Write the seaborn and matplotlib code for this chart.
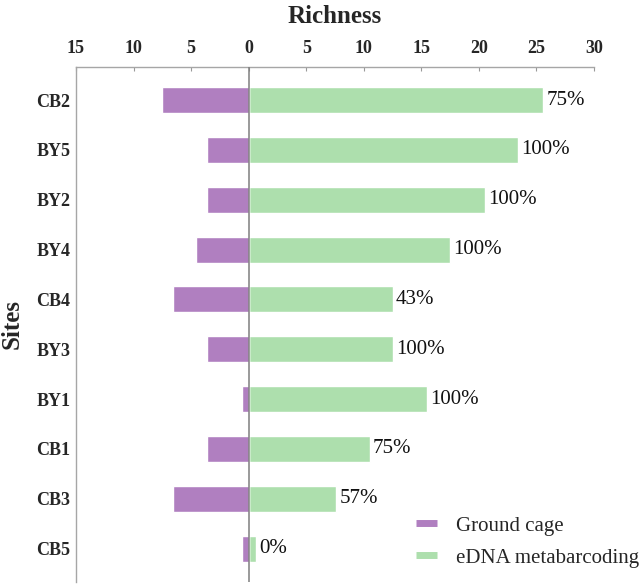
import numpy as np
import pandas as pd
import matplotlib
matplotlib.use("Agg")
import matplotlib.pyplot as plt
import seaborn as sns
from matplotlib.lines import Line2D

# =========================
# DATA
# =========================

sites = ["CB2", "BY5", "BY2", "BY4", "CB4", "BY3", "BY1", "CB1", "CB3", "CB5"]

edna = [25.6, 23.4, 20.5, 17.5, 12.5, 12.5, 15.5, 10.5, 7.6, 0.6]

cage = [7.5, 3.6, 3.6, 4.6, 6.6, 3.6, 0.6, 3.6, 6.6, 0.6]

pct_labels = ["75%", "100%", "100%", "100%", "43%", "100%", "100%", "75%", "57%", "0%"]

xticks = [-15, -10, -5, 0, 5, 10, 15, 20, 25, 30]

purple = "#B07FC0"
green = "#ADDFAD"

df = pd.DataFrame({"site": sites, "edna": edna, "cage": [-v for v in cage]})

# =========================
# PLOT
# =========================

sns.set_style("white")
plt.rcParams["font.family"] = ["Liberation Serif", "DejaVu Serif"]

fig = plt.figure(figsize=(6.44, 5.85), dpi=100)
ax = fig.add_axes([76 / 644, 3 / 585, (594 - 76) / 644, (582 - 66.7) / 585])

sns.barplot(data=df, x="edna", y="site", orient="h", color=green,
            width=0.52, saturation=1, ax=ax)
sns.barplot(data=df, x="cage", y="site", orient="h", color=purple,
            width=0.52, saturation=1, ax=ax)

ax.set_xlim(-15, 30)
ax.set_ylim(9.67, -0.67)

# zero line
ax.axvline(0, color="#7f7f7f", lw=1.1, zorder=3)

# percent labels
for i, (v, lab) in enumerate(zip(edna, pct_labels)):
    ax.text(v + 0.3, i, lab, va="center", ha="left", fontsize=15, color="#111111")

# axes styling
ax.xaxis.tick_top()
ax.xaxis.set_label_position("top")
ax.set_xticks(xticks)
ax.set_xticklabels([str(abs(t)) for t in xticks], fontsize=13, fontweight="bold")
ax.tick_params(axis="x", direction="in", length=3, width=0.8, color="#999999", pad=7)
ax.tick_params(axis="y", length=0, pad=4)
for lab in ax.get_yticklabels():
    lab.set_fontsize(13)
    lab.set_fontweight("bold")

ax.set_xlabel("Richness", fontsize=18, fontweight="bold", labelpad=12)
ax.set_ylabel("Sites", fontsize=18, fontweight="bold", labelpad=9)

for side in ["right", "bottom"]:
    ax.spines[side].set_visible(False)
for side in ["top", "left"]:
    ax.spines[side].set_color("#a6a6a6")
    ax.spines[side].set_linewidth(1)

# legend
handles = [Line2D([0], [0], color=purple, lw=5, solid_capstyle="butt"),
           Line2D([0], [0], color=green, lw=5, solid_capstyle="butt")]
ax.legend(handles, ["Ground cage", "eDNA metabarcoding"], loc="upper left",
          bbox_to_anchor=(416 / 644, 1 - 516 / 585), bbox_transform=fig.transFigure,
          frameon=False, fontsize=15, handlelength=1.0, handletextpad=0.9,
          labelspacing=0.6, borderpad=0, borderaxespad=0)

plt.savefig("out.png", dpi=100)
